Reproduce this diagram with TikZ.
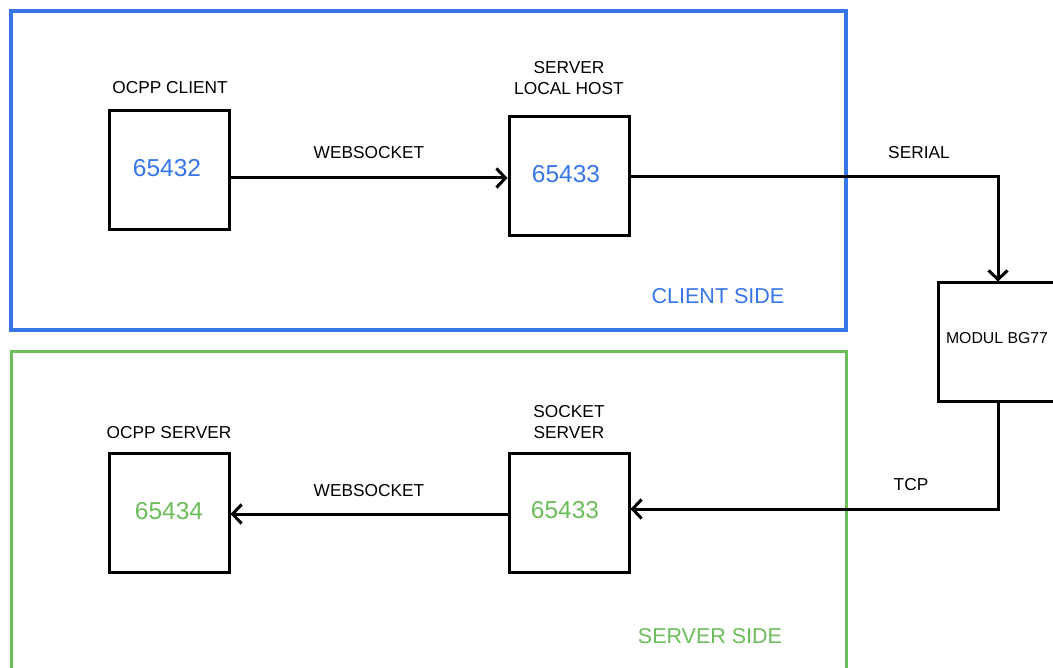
\documentclass[tikz,border=0pt]{standalone}
\usepackage{fontspec}
\setmainfont{Liberation Sans}
\usetikzlibrary{arrows.meta}
\definecolor{cblue}{HTML}{3776E8}
\definecolor{cgreen}{HTML}{6BBE5A}
\begin{document}
\begin{tikzpicture}[x=1pt,y=-1pt,
  box/.style={draw=black,line width=3pt,minimum width=120pt,minimum height=119pt,inner sep=0pt},
  lbl/.style={font=\fontsize{17.3}{21}\selectfont,align=center,inner sep=0pt},
  num/.style={font=\fontsize{24.5}{28}\selectfont,inner sep=0pt},
  side/.style={font=\fontsize{21.5}{25}\selectfont,inner sep=0pt},
  arr/.style={line width=3pt,-{Straight Barb[length=9pt,width=19pt,line width=3pt]}},
  conn/.style={line width=3pt}]
\useasboundingbox (0,0) rectangle (1053,668);
\fill[white] (0,0) rectangle (1053,668);
% groups
\draw[cblue,line width=3.5pt] (11,11) rectangle (846,330);
\draw[cgreen,line width=3pt] (11,352) rectangle (846,690);
\node[side,text=cblue] (cside) at (718,296) {CLIENT SIDE};
\node[side,text=cgreen] (sside) at (710,636) {SERVER SIDE};
% boxes
\node[box] (oc) at (169,170.5) {};
\node[num,text=cblue] (ocn) at (167,168) {65432};
\node[lbl] (ocl) at (170,88) {OCPP CLIENT};
\node[box] (slh) at (569,176.5) {};
\node[num,text=cblue] (slhn) at (566,174) {65433};
\node[lbl] (slhl) at (569,78) {SERVER\\LOCAL HOST};
\node[box] (mod) at (998,342.5) {};
\node[font=\fontsize{15.8}{18}\selectfont,inner sep=0pt] (modl) at (997,338) {MODUL BG77};
\node[box] (ss) at (569,512.5) {};
\node[num,text=cgreen] (ssn) at (565,510) {65433};
\node[lbl] (ssl) at (569,422) {SOCKET\\SERVER};
\node[box] (os) at (169,512.5) {};
\node[num,text=cgreen] (osn) at (169,511) {65434};
\node[lbl] (osl) at (169,433) {OCPP SERVER};
% connectors
\coordinate (a1) at (slh.west |- 0,178);
\draw[arr] (oc.east |- a1) -- (a1);
\node[lbl] (ws1) at (369,153) {WEBSOCKET};
\coordinate (s1) at (slh.east |- 0,177);
\draw[arr] (s1) -| (mod.north);
\node[lbl] (ser) at (919,153) {SERIAL};
\coordinate (t1) at (ss.east |- 0,509);
\draw[arr] (mod.south) |- (t1);
\node[lbl] (tcp) at (911,485) {TCP};
\coordinate (w2) at (ss.west |- 0,514);
\draw[arr] (w2) -- (os.east |- w2);
\node[lbl] (ws2) at (369,491) {WEBSOCKET};
\end{tikzpicture}
\end{document}
